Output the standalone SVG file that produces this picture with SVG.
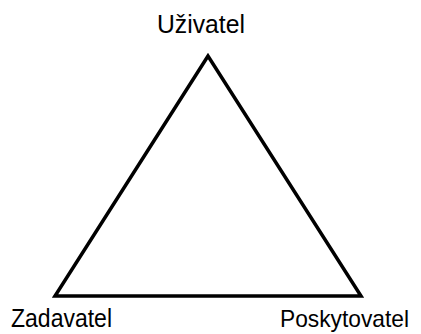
<svg xmlns="http://www.w3.org/2000/svg" width="421" height="334" viewBox="0 0 421 334">
<style>
.lbl{font-family:"Liberation Sans",Arial,sans-serif;font-size:26px;fill:#000}
.edge{fill:none;stroke:#000;stroke-width:3.5;stroke-linejoin:miter}
</style>
<rect width="421" height="334" fill="#fff"/>
<g id="connectors">
<polygon class="edge" points="208,56 55,296 361,296"/>
</g>
<g id="uzivatel"><text class="lbl" x="157" y="33" textLength="88" lengthAdjust="spacingAndGlyphs">Uživatel</text></g>
<g id="zadavatel"><text class="lbl" x="11" y="327" textLength="101" lengthAdjust="spacingAndGlyphs">Zadavatel</text></g>
<g id="poskytovatel"><text class="lbl" x="280" y="327" style="font-size:24px" textLength="129" lengthAdjust="spacingAndGlyphs">Poskytovatel</text></g>
</svg>
